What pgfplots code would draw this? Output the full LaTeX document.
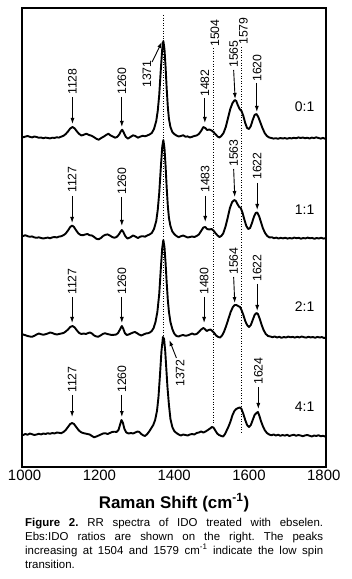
\documentclass[border=0pt]{standalone}
\usepackage{fontspec}
\setmainfont{Liberation Sans}
\usepackage{pgfplots}
\pgfplotsset{compat=1.18}
\usetikzlibrary{arrows.meta}
\frenchspacing
\begin{document}
\begin{tikzpicture}[
  lab/.style={rotate=90, anchor=west, inner sep=0pt, font=\fontsize{12.3}{12}\selectfont},
  arr/.style={-{Latex[length=6bp,width=4bp]}, line width=0.9bp},
  dots/.style={line width=0.9bp, dash pattern=on 1bp off 1.6bp},
  spec/.style={black, line width=1.9bp, line join=round, mark=none}
]
\begin{axis}[name=ax, scale only axis, width=304bp, height=459bp,
  xmin=993, xmax=1806, ymin=0, ymax=459,
  ytick=\empty,
  xtick={1000,1200,1400,1600,1800},
  xticklabels={1000,1200,1400,1600,1800},
  xtick style={draw=none},
  ticklabel style={font=\fontsize{15}{15}\selectfont},
  axis line style={line width=1.3bp},
  xlabel={\textbf{Raman Shift (cm\textsuperscript{-1})}},
  xlabel style={font=\fontsize{17}{17}\selectfont, at={(axis description cs:0.5,0)}, anchor=base, yshift=-41bp},
]
% dotted guide lines
\draw[dots] (axis cs:1371,452) -- (axis cs:1371,122);
\draw[dots] (axis cs:1504,419) -- (axis cs:1504,44);
\draw[dots] (axis cs:1579,420) -- (axis cs:1579,35);

% Spectrum 0:1
\addplot[spec] table[x=w, y expr=\thisrow{h}+330] {
w h
990 0.5
996 -0.3
1002 0.4
1008 1.0
1014 0.2
1020 -0.4
1026 0.5
1032 0.0
1038 -0.8
1044 -0.5
1050 -1.2
1056 -0.6
1062 -1.0
1068 -1.4
1074 -0.7
1080 -0.9
1086 -0.3
1092 -0.6
1098 0.4
1104 1.2
1110 3.0
1116 5.5
1122 8.5
1128 10.0
1134 8.5
1140 5.5
1146 3.0
1152 1.5
1158 2.2
1165 3.3
1172 2.0
1178 1.4
1185 0.0
1192 -1.8
1198 -2.7
1205 -1.0
1212 0.5
1218 2.0
1224 3.3
1230 1.5
1236 0.5
1242 -0.7
1248 0.2
1253 2.5
1257 5.5
1261 7.3
1265 4.5
1270 0.5
1276 -1.7
1283 0.0
1290 1.7
1296 1.0
1303 -0.7
1310 0.5
1316 1.2
1322 0.7
1328 1.5
1334 2.5
1340 4.0
1346 8.0
1352 16
1356 26
1360 42
1364 66
1368 88
1371 96
1374 88
1377 70
1380 48
1383 30
1386 18
1390 10
1395 5
1400 3
1406 1.5
1412 0.5
1418 1.0
1424 1.8
1430 0.3
1436 0.6
1442 -0.5
1448 0.2
1454 1.0
1460 1.5
1466 3.0
1472 6.0
1478 10.0
1483 9.0
1488 7.0
1494 7.5
1500 6.5
1505 5.0
1510 3.0
1516 0.5
1521 -0.5
1526 1.0
1532 4.0
1538 10
1544 19
1550 28
1556 34
1562 37
1566 36
1570 32
1575 28
1580 26
1585 21
1590 14
1595 9
1600 8
1605 11
1610 17
1615 22
1620 23
1625 20
1630 15
1636 9
1642 4
1648 1.0
1654 -0.5
1660 -1.0
1666 -1.6
1672 -1.2
1678 -1.8
1684 -1.0
1690 -1.5
1696 -1.1
1702 -1.7
1708 -1.0
1714 -1.4
1720 -0.8
1726 -1.3
1732 -0.4
1738 -1.0
1744 -0.5
1750 -1.2
1756 -0.7
1762 -1.5
1768 -0.6
1774 -1.1
1780 -0.3
1786 -1.0
1792 -1.6
1798 -0.9
1804 -1.8
};

% Spectrum 1:1
\addplot[spec] table[x=w, y expr=\thisrow{h}+230] {
w h
990 1.5
996 1.0
1002 1.8
1008 0.8
1014 0.2
1020 0.6
1026 -0.4
1032 -0.8
1038 -0.3
1044 -1.0
1050 -1.5
1056 -1.0
1062 -0.6
1068 -1.3
1074 -0.4
1080 0.0
1086 -0.5
1092 0.4
1098 0.8
1104 1.8
1110 3.5
1116 6.5
1122 10
1127 11.5
1132 10
1138 6.5
1144 3.5
1150 2.0
1156 1.8
1162 2.5
1168 3.0
1174 1.8
1180 1.5
1186 0.0
1192 -1.8
1198 -2.3
1204 -1.0
1210 1.0
1216 2.2
1222 2.6
1228 1.5
1234 0.0
1240 -0.8
1246 0.0
1252 2.5
1256 5.0
1260 7.0
1264 5.0
1269 1.0
1275 -1.5
1282 -0.5
1290 1.5
1296 0.5
1303 -1.0
1310 0.5
1316 0.8
1322 0.3
1328 1.5
1334 2.5
1340 4.0
1346 8.0
1352 16
1356 27
1360 44
1364 68
1368 90
1371 97
1374 89
1377 71
1380 49
1383 31
1386 19
1390 11
1395 5.5
1400 3
1406 1.0
1412 -0.3
1418 0.8
1424 1.5
1430 0.5
1436 -0.5
1442 0.0
1448 0.5
1454 0.0
1460 1.0
1466 2.5
1472 6.0
1478 9.5
1483 10
1488 8.0
1494 7.5
1500 8.0
1505 6.5
1510 4.0
1516 1.5
1521 0.0
1526 1.0
1531 3.5
1537 10
1543 19
1549 29
1555 35
1561 37
1565 36
1569 33
1574 30
1578 29
1583 24
1588 17
1593 11
1598 8
1603 9
1608 14
1613 20
1618 24
1622 24.5
1627 21
1632 15
1637 9
1643 4
1649 1.0
1655 -0.5
1661 -0.2
1667 -1.2
1673 -0.6
1679 -1.5
1685 -0.8
1691 -1.4
1697 -0.7
1703 -1.6
1709 -1.0
1715 -1.5
1721 -0.6
1727 -1.2
1733 -0.8
1739 -1.7
1745 -1.0
1751 -1.4
1757 -0.6
1763 -1.3
1769 -0.9
1775 -1.8
1781 -1.0
1787 -1.5
1793 -0.7
1799 -1.6
1804 -1.2
};

% Spectrum 2:1
\addplot[spec] table[x=w, y expr=\thisrow{h}+131] {
w h
990 2.0
996 1.5
1002 0.8
1008 0.0
1014 -0.5
1020 -0.8
1026 0.2
1032 1.5
1038 2.5
1044 1.8
1050 1.2
1056 1.8
1062 2.5
1068 3.5
1074 3.0
1080 2.0
1086 1.5
1092 2.0
1098 2.5
1104 3.0
1110 4.5
1116 6.5
1122 9.0
1128 10
1134 8.5
1140 5.5
1146 3.0
1152 2.0
1158 2.5
1164 2.0
1170 3.0
1175 3.5
1180 2.5
1186 0.5
1192 -0.5
1197 -0.7
1203 0.5
1209 2.0
1215 2.8
1221 2.0
1227 1.5
1233 1.0
1239 1.2
1245 1.5
1250 3.0
1255 6.5
1260 10
1264 7.0
1268 3.0
1273 1.0
1278 1.5
1284 2.5
1290 3.5
1295 4.0
1300 3.0
1306 1.5
1312 0.5
1318 1.5
1324 2.5
1330 2.8
1335 3.5
1340 5.0
1345 8.0
1350 14
1355 24
1360 42
1364 66
1368 88
1371 96
1374 89
1377 73
1380 53
1383 36
1386 24
1390 14
1395 7
1400 2.5
1406 0.0
1412 -0.5
1418 0.5
1424 1.0
1430 0.2
1436 0.6
1442 1.5
1448 2.5
1454 1.5
1460 2.0
1466 4.0
1472 6.5
1478 8.0
1482 7.0
1487 5.0
1492 6.0
1497 6.5
1502 5.0
1507 3.0
1512 0.5
1518 -1.0
1523 -1.5
1528 0.5
1533 4.0
1539 10
1545 17
1551 24
1557 29
1562 31
1566 31
1571 30
1576 29
1580 26
1585 21
1590 15
1595 11
1600 9
1605 11
1610 16
1615 21
1620 23
1624 22
1629 17
1634 11
1639 6
1645 2.0
1651 0.0
1657 -0.5
1663 -1.2
1669 -0.5
1675 -1.5
1681 -0.8
1687 -1.8
1693 -1.0
1699 -1.5
1705 -0.6
1711 -1.3
1717 -0.9
1723 -1.6
1729 -0.8
1735 -1.4
1741 -0.5
1747 -1.2
1753 -1.6
1759 -0.8
1765 -1.4
1771 -1.0
1777 -1.8
1783 -0.9
1789 -1.5
1795 -1.1
1801 -2.0
1805 -1.5
};

% Spectrum 4:1
\addplot[spec] table[x=w, y expr=\thisrow{h}+32] {
w h
990 0.5
996 0.0
1002 1.0
1008 0.3
1014 1.5
1020 0.8
1026 0.0
1032 0.5
1038 1.2
1044 0.6
1050 1.5
1056 1.0
1062 1.8
1068 1.2
1074 2.0
1080 1.5
1086 2.5
1092 2.2
1098 1.8
1104 3.0
1110 5.0
1116 8.0
1122 11
1127 12
1132 11
1138 8
1144 5
1150 3
1156 2.0
1162 1.5
1168 1.0
1174 0.5
1180 -1.0
1186 -2.3
1192 -1.5
1198 -0.5
1204 0.5
1210 1.5
1216 1.8
1222 1.0
1228 2.0
1234 3.0
1240 3.3
1246 3.0
1251 5.0
1255 10
1259 15
1263 12
1267 6
1272 2.5
1278 1.5
1284 2.0
1290 1.5
1296 2.5
1302 3.5
1307 3.0
1312 1.0
1318 -0.5
1322 -1.0
1328 1.0
1334 4.0
1339 7.0
1344 10
1349 15
1354 24
1358 38
1362 60
1366 84
1370 98
1373 96
1376 84
1379 66
1382 48
1386 30
1390 16
1395 8
1400 4
1406 2.0
1412 0.5
1418 -0.5
1424 0.5
1430 0.0
1436 -0.5
1442 0.5
1448 1.0
1454 0.5
1460 2.0
1466 2.5
1472 3.5
1478 2.5
1484 3.5
1490 5.0
1496 6.5
1501 8.0
1505 7.5
1510 4.5
1515 1.5
1520 0.0
1526 -1.0
1531 -1.5
1536 1.0
1541 5.0
1546 9.0
1551 14
1556 20
1561 24
1566 26
1571 27
1576 27.5
1580 26
1585 21
1590 15
1595 10
1600 8
1605 10
1610 15
1615 20
1620 22
1624 23
1628 19
1632 14
1637 9
1642 5
1648 2.0
1654 0.5
1660 -0.3
1666 0.5
1672 -0.5
1678 0.3
1684 -0.8
1690 0.0
1696 -0.6
1702 0.2
1708 -1.0
1714 -0.3
1720 0.3
1726 -0.8
1732 0.0
1738 -0.5
1744 -1.2
1750 -0.4
1756 0.0
1762 -0.7
1768 -1.5
1774 -0.5
1780 -1.0
1786 -0.2
1792 -1.3
1798 -0.8
1804 -1.6
};

% ---- annotations, spectrum 0:1
\node[lab] at (axis cs:1128,372) {1128};
\draw[arr] (axis cs:1128,370) -- (axis cs:1128,343);
\node[lab] at (axis cs:1260,372) {1260};
\draw[arr] (axis cs:1260,370) -- (axis cs:1260,340);
\node[lab] at (axis cs:1327,379) {1371};
\draw[arr] (axis cs:1341,405) -- (axis cs:1367,425);
\node[lab] at (axis cs:1482,370) {1482};
\draw[arr] (axis cs:1482,369) -- (axis cs:1482,344);
\node[lab] at (axis cs:1509,420) {1504};
\node[lab] at (axis cs:1585,422) {1579};
\node[lab] at (axis cs:1559,399) {1565};
\draw[arr] (axis cs:1559,397) -- (axis cs:1563,368);
\node[lab] at (axis cs:1622,385) {1620};
\draw[arr] (axis cs:1621,384) -- (axis cs:1621,355);
\node[font=\fontsize{14}{14}\selectfont] at (axis cs:1749,360) {0:1};

% ---- spectrum 1:1
\node[lab] at (axis cs:1127,274) {1127};
\draw[arr] (axis cs:1127,271) -- (axis cs:1127,244);
\node[lab] at (axis cs:1260,272) {1260};
\draw[arr] (axis cs:1260,270) -- (axis cs:1260,241);
\node[lab] at (axis cs:1483,274) {1483};
\draw[arr] (axis cs:1483,271) -- (axis cs:1483,245);
\node[lab] at (axis cs:1559,300) {1563};
\draw[arr] (axis cs:1559,298) -- (axis cs:1562,270);
\node[lab] at (axis cs:1622,287) {1622};
\draw[arr] (axis cs:1622,284) -- (axis cs:1622,257);
\node[font=\fontsize{14}{14}\selectfont] at (axis cs:1749,257) {1:1};

% ---- spectrum 2:1
\node[lab] at (axis cs:1127,172) {1127};
\draw[arr] (axis cs:1127,170) -- (axis cs:1127,144);
\node[lab] at (axis cs:1260,172) {1260};
\draw[arr] (axis cs:1260,170) -- (axis cs:1260,144);
\node[lab] at (axis cs:1480,172) {1480};
\draw[arr] (axis cs:1480,170) -- (axis cs:1480,144);
\node[lab] at (axis cs:1559,192) {1564};
\draw[arr] (axis cs:1559,190) -- (axis cs:1562,164);
\node[lab] at (axis cs:1622,185) {1622};
\draw[arr] (axis cs:1622,183) -- (axis cs:1622,156);
\node[font=\fontsize{14}{14}\selectfont] at (axis cs:1749,160) {2:1};

% ---- spectrum 4:1
\node[lab] at (axis cs:1416,80) {1372};
\draw[arr] (axis cs:1406,109) -- (axis cs:1387,127);
\node[lab] at (axis cs:1127,74) {1127};
\draw[arr] (axis cs:1127,72) -- (axis cs:1127,50);
\node[lab] at (axis cs:1260,74) {1260};
\draw[arr] (axis cs:1260,72) -- (axis cs:1260,50);
\node[lab] at (axis cs:1625,82) {1624};
\draw[arr] (axis cs:1625,80) -- (axis cs:1625,58);
\node[font=\fontsize{14}{14}\selectfont] at (axis cs:1749,60) {4:1};
\end{axis}

\node[anchor=base west, inner sep=0pt] at ([shift={(3bp,-59bp)}]ax.south west)
  {\parbox[t]{298bp}{\fontsize{11.5}{14.2}\selectfont\frenchspacing
   \textbf{Figure 2.} RR spectra of IDO treated with ebselen.\linebreak
   Ebs:IDO ratios are shown on the right. The peaks\linebreak
   increasing at 1504 and 1579 cm\textsuperscript{-1} indicate the low spin\linebreak
   transition.}};

\pgfresetboundingbox
\path[use as bounding box] ([shift={(-22bp,-112bp)}]ax.south west) rectangle ([shift={(26bp,8bp)}]ax.north east);
\end{tikzpicture}
\end{document}
